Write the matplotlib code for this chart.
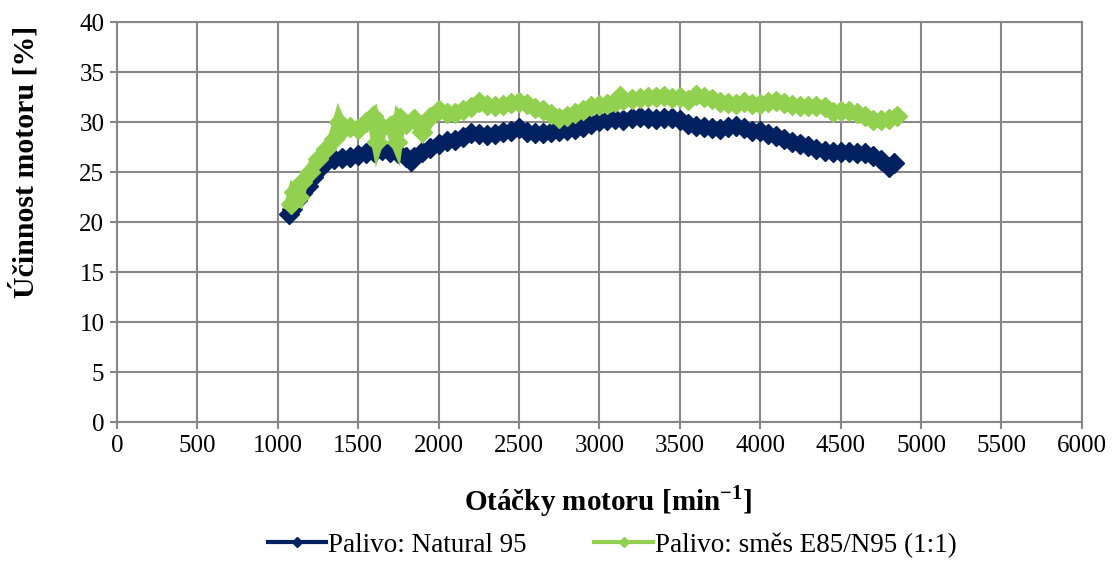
import matplotlib
matplotlib.use("Agg")
import matplotlib.pyplot as plt
from matplotlib.lines import Line2D

# --- data ---
rpm_n95 = [1070, 1090, 1120, 1150, 1190, 1220, 1250, 1300, 1350, 1400,
           1450, 1500, 1550, 1600, 1650, 1700, 1750, 1800, 1830, 1850,
           1900, 1950, 2000, 2050, 2100, 2150, 2200, 2250, 2300, 2350,
           2400, 2450, 2500, 2550, 2600, 2650, 2700, 2750, 2800, 2850,
           2900, 2950, 3000, 3050, 3100, 3150, 3200, 3250, 3300, 3350,
           3400, 3450, 3500, 3550, 3600, 3650, 3700, 3750, 3800, 3850,
           3900, 3950, 4000, 4050, 4100, 4150, 4200, 4250, 4300, 4350,
           4400, 4450, 4500, 4550, 4600, 4650, 4700, 4750, 4800, 4830]
eff_n95 = [20.8, 21.3, 22.2, 22.9, 23.6, 24.5, 25.2, 26.0, 26.3, 26.4,
           26.5, 26.7, 26.9, 27.0, 27.2, 27.0, 26.9, 26.5, 26.1, 26.5,
           27.0, 27.4, 27.8, 28.1, 28.2, 28.5, 28.9, 28.8, 28.7, 28.8,
           29.0, 29.1, 29.4, 29.0, 28.9, 28.9, 29.0, 29.1, 29.2, 29.3,
           29.5, 29.8, 30.1, 30.2, 30.3, 30.2, 30.4, 30.5, 30.4, 30.3,
           30.4, 30.4, 30.2, 29.8, 29.6, 29.5, 29.4, 29.3, 29.5, 29.6,
           29.4, 29.1, 29.1, 28.8, 28.6, 28.3, 28.0, 27.8, 27.6, 27.3,
           27.1, 27.0, 27.0, 27.0, 26.9, 26.9, 26.6, 26.2, 25.5, 25.9]

rpm_mix = [1080, 1100, 1130, 1150, 1200, 1250, 1300, 1350, 1380, 1400,
           1450, 1500, 1550, 1590, 1620, 1650, 1700, 1740, 1760, 1800,
           1850, 1900, 1950, 2000, 2050, 2100, 2150, 2200, 2250, 2300,
           2350, 2400, 2450, 2500, 2550, 2600, 2650, 2700, 2750, 2800,
           2850, 2900, 2950, 3000, 3050, 3100, 3130, 3150, 3200, 3250,
           3300, 3350, 3400, 3450, 3500, 3550, 3600, 3650, 3700, 3750,
           3800, 3850, 3900, 3950, 4000, 4050, 4100, 4150, 4200, 4250,
           4300, 4350, 4400, 4450, 4500, 4550, 4600, 4650, 4700, 4750,
           4800, 4850]
eff_mix = [21.8, 23.0, 22.5, 24.0, 25.0, 26.3, 27.3, 28.3, 30.0, 29.2,
           29.5, 29.3, 30.0, 30.6, 28.0, 29.5, 29.6, 28.0, 30.4, 29.8,
           30.3, 29.0, 30.5, 31.2, 30.9, 30.9, 31.2, 31.5, 32.0, 31.7,
           31.6, 31.7, 31.9, 32.0, 31.8, 31.4, 31.2, 30.8, 30.4, 30.6,
           30.9, 31.2, 31.6, 31.7, 31.8, 32.0, 32.6, 32.2, 32.3, 32.4,
           32.5, 32.5, 32.6, 32.4, 32.5, 32.2, 32.7, 32.5, 32.3, 32.0,
           31.9, 31.8, 32.0, 31.8, 31.8, 32.0, 32.1, 31.9, 31.7, 31.6,
           31.6, 31.6, 31.5, 31.0, 31.1, 31.1, 30.9, 30.6, 30.2, 30.2,
           30.3, 30.6]

label_n95 = "Palivo: Natural 95"
label_mix = "Palivo: směs E85/N95 (1:1)"

color_n95 = "#002060"
color_mix = "#92D050"
grid_col = "#878787"

plt.rcParams["font.family"] = ["Liberation Serif", "DejaVu Serif"]
plt.rcParams["mathtext.fontset"] = "custom"
plt.rcParams["mathtext.rm"] = "Liberation Serif"
plt.rcParams["mathtext.bf"] = "Liberation Serif:bold"

fig = plt.figure(figsize=(11.13, 5.72), dpi=100)
ax = fig.add_axes([0.105, 0.262, 0.867, 0.6995])

ax.plot(rpm_n95, eff_n95, color=color_n95, lw=9, marker="D", ms=10,
        solid_joinstyle="miter", zorder=3)
ax.plot(rpm_mix, eff_mix, color=color_mix, lw=9, marker="D", ms=10,
        solid_joinstyle="miter", zorder=4)

ax.set_xlim(0, 6000)
ax.set_ylim(0, 40)
ax.set_xticks(range(0, 6001, 500))
ax.set_yticks(range(0, 41, 5))
ax.grid(True, color=grid_col, lw=1.5)
ax.set_axisbelow(True)
for s in ax.spines.values():
    s.set_color(grid_col)
    s.set_linewidth(1.5)
ax.tick_params(direction="out", length=5, width=1.5, color=grid_col,
               labelsize=18, pad=4)

ax.set_xlabel(r"Otáčky motoru [min$^{\mathbf{-1}}$]", fontsize=21,
              fontweight="bold")
ax.xaxis.set_label_coords(0.509, -0.152)
ax.set_ylabel("Účinnost motoru [%]", fontsize=21.5, fontweight="bold")
ax.yaxis.set_label_coords(-0.08, 0.65)

handles = [
    Line2D([], [], color=color_n95, lw=3, marker="D", ms=5),
    Line2D([], [], color=color_mix, lw=3, marker="D", ms=5),
]
fig.legend(handles, [label_n95, label_mix], loc="center",
           bbox_to_anchor=(0.55, 0.047), ncol=2, frameon=False,
           fontsize=19.5, handlelength=2.15, handletextpad=0.07,
           columnspacing=2.5)

fig.savefig("out.png", dpi=100)
